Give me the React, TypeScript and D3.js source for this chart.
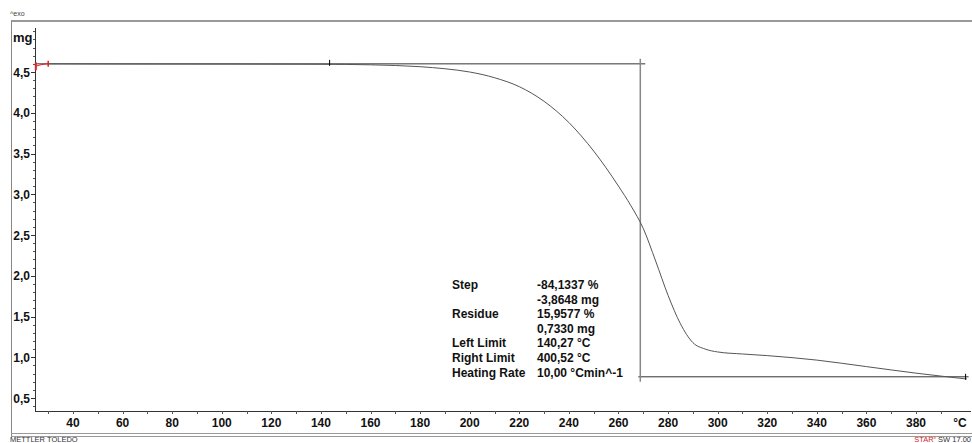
import React from "react";
import * as d3 from "d3";

const temps = [25, 27.5, 30, 60, 100, 140, 160, 180, 190, 200, 210, 220, 230, 240, 250, 260, 265, 270, 275, 280, 285, 290, 295, 300, 310, 320, 340, 360, 380, 400.5];
const masses = [4.57, 4.592, 4.6, 4.598, 4.597, 4.595, 4.588, 4.565, 4.54, 4.5, 4.43, 4.32, 4.14, 3.88, 3.53, 3.1, 2.86, 2.58, 2.18, 1.76, 1.41, 1.18, 1.1, 1.065, 1.04, 1.02, 0.965, 0.885, 0.805, 0.733];
const xTicks = [40, 60, 80, 100, 120, 140, 160, 180, 200, 220, 240, 260, 280, 300, 320, 340, 360, 380];
const yTicks = [0.5, 1.0, 1.5, 2.0, 2.5, 3.0, 3.5, 4.0, 4.5];
const infoLabels = ["Step", "", "Residue", "", "Left Limit", "Right Limit", "Heating Rate"];
const infoValues = ["-84,1337 %", "-3,8648 mg", "15,9577 %", "0,7330 mg", "140,27 °C", "400,52 °C", "10,00 °Cmin^-1"];
const startMass = 4.6;
const residueMass = 0.76;
const midTemp = 268.8;
const leftMarkT = 143.5;
const rightMarkT = 400;
const redEndT = 30;

export default function App() {
  const x = d3.scaleLinear().domain([40, 380]).range([73, 916]);
  const y = d3.scaleLinear().domain([0.5, 4.5]).range([398, 72]);
  const axisX0 = 35, axisX1 = 971, axisY = 411, axisTop = 28;
  const pts = temps.map((t, i) => [x(t), y(masses[i])] as [number, number]);
  const line = d3.line().curve(d3.curveMonotoneX);
  const redPts = pts.filter((p, i) => temps[i] <= redEndT);
  const greyPts = pts.filter((p, i) => temps[i] >= redEndT);
  const xMinor = d3.range(30, 400, 10);
  const yMinor = d3.range(0.4, 5.01, 0.1);
  const font = "'Liberation Sans', Arial, sans-serif";
  const fmt = (v: number) => v.toFixed(1).replace(".", ",");
  return (
    <svg width={972} height={443} style={{ position: "absolute", left: 0, top: 0, background: "#fff" }} fontFamily={font}>
      <text x={10} y={16} fontSize={7} fill="#444">^exo</text>
      <line x1={11} x2={972} y1={21} y2={21} stroke="#999" strokeWidth={2} />
      <line x1={11.5} x2={11.5} y1={21} y2={437} stroke="#888" strokeWidth={1} />
      <line x1={11} x2={972} y1={433.5} y2={433.5} stroke="#999" strokeWidth={1} />
      <line x1={11} x2={972} y1={436.5} y2={436.5} stroke="#999" strokeWidth={1} />
      <text x={10} y={442} fontSize={7.5} fill="#333">METTLER TOLEDO</text>
      <text x={971} y={442} fontSize={7.5} textAnchor="end" fill="#333">
        <tspan fill="#d22">STAR</tspan><tspan fontSize={4} dy={-3} fill="#d22">e</tspan><tspan dy={3}> SW 17.00</tspan>
      </text>
      {/* axes */}
      <line x1={axisX0 + 0.5} x2={axisX0 + 0.5} y1={axisTop} y2={axisY} stroke="#333" />
      <line x1={axisX0} x2={axisX1} y1={axisY + 0.5} y2={axisY + 0.5} stroke="#333" />
      {yMinor.map((v, i) => (
        <line key={"ym" + i} x1={axisX0 - 2} x2={axisX0} y1={Math.round(y(v)) + 0.5} y2={Math.round(y(v)) + 0.5} stroke="#555" />
      ))}
      {yTicks.map((v) => (
        <g key={"y" + v}>
          <line x1={axisX0 - 4} x2={axisX0} y1={Math.round(y(v)) + 0.5} y2={Math.round(y(v)) + 0.5} stroke="#333" />
          <text x={30} y={y(v) + 4.5} fontSize={12} fontWeight="bold" textAnchor="end" fill="#111">{fmt(v)}</text>
        </g>
      ))}
      <text x={13} y={42} fontSize={13} fontWeight="bold" fill="#111">mg</text>
      {xMinor.map((t) => (
        <line key={"xm" + t} x1={Math.round(x(t)) + 0.5} x2={Math.round(x(t)) + 0.5} y1={axisY} y2={axisY + 3} stroke="#555" />
      ))}
      {xTicks.map((t) => (
        <text key={"x" + t} x={x(t)} y={427} fontSize={12} fontWeight="bold" textAnchor="middle" fill="#111">{t}</text>
      ))}
      <text x={960} y={427} fontSize={12} fontWeight="bold" textAnchor="middle" fill="#111">°C</text>
      {/* evaluation lines */}
      <line x1={axisX0} x2={x(midTemp) + 5} y1={y(startMass)} y2={y(startMass)} stroke="#333" />
      <line x1={x(midTemp) - 2} x2={x(rightMarkT) + 3} y1={y(residueMass)} y2={y(residueMass)} stroke="#333" />
      <line x1={x(midTemp)} x2={x(midTemp)} y1={y(startMass) - 5} y2={y(residueMass) + 5} stroke="#888" strokeWidth={1.5} />
      {/* curve */}
      <path d={line(greyPts) || ""} fill="none" stroke="#555" strokeWidth={1} />
      <path d={line(redPts) || ""} fill="none" stroke="#d22" strokeWidth={1} />
      <line x1={x(25)} x2={x(25)} y1={y(masses[0]) - 4} y2={y(masses[0]) + 4} stroke="#d22" strokeWidth={2} />
      <line x1={x(redEndT)} x2={x(redEndT)} y1={y(masses[2]) - 3} y2={y(masses[2]) + 3} stroke="#d22" strokeWidth={1.5} />
      <line x1={x(leftMarkT)} x2={x(leftMarkT)} y1={y(startMass) - 4} y2={y(startMass) + 2} stroke="#000" />
      <line x1={x(rightMarkT)} x2={x(rightMarkT)} y1={y(residueMass) - 3} y2={y(residueMass) + 3} stroke="#000" />
      {/* info */}
      {infoLabels.map((s, i) => (
        <text key={"l" + i} x={452} y={289 + i * 14.6} fontSize={12} fontWeight="bold" fill="#111">{s}</text>
      ))}
      {infoValues.map((s, i) => (
        <text key={"v" + i} x={537} y={289 + i * 14.6} fontSize={12} fontWeight="bold" fill="#111">{s}</text>
      ))}
    </svg>
  );
}
